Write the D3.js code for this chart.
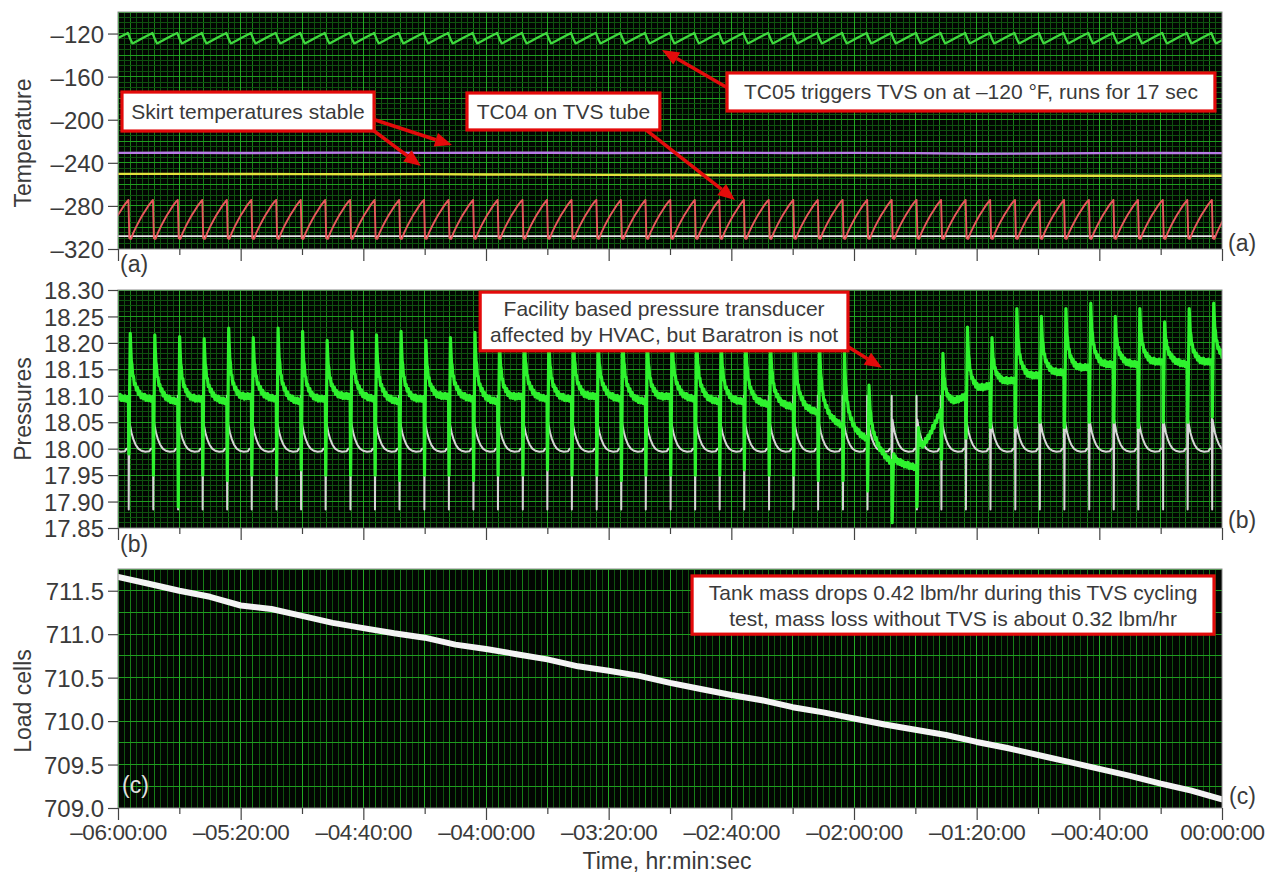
<!DOCTYPE html>
<html><head><meta charset="utf-8">
<script src="https://cdn.jsdelivr.net/npm/d3@7"></script>
<style>
body{margin:0;background:#fff;}
svg{display:block;font-family:"Liberation Sans",Arial,Helvetica,sans-serif;}
</style>
</head><body>
<svg id="chart" width="1269" height="876"></svg>
<script>
// ---------------- DATA ----------------
// time axis: minutes relative to end of test
const timeTicksMajor = [-360,-320,-280,-240,-200,-160,-120,-80,-40,0];
const timeTicksMinor = [-340,-300,-260,-220,-180,-140,-100,-60,-20];
const timeTickLabels = ["–06:00:00","–05:20:00","–04:40:00","–04:00:00","–03:20:00","–02:40:00","–02:00:00","–01:20:00","–00:40:00","00:00:00"];
const tempTicks = [-120,-160,-200,-240,-280,-320];
const pressTicks = [18.30,18.25,18.20,18.15,18.10,18.05,18.00,17.95,17.90,17.85];
const loadTicks = [711.5,711.0,710.5,710.0,709.5,709.0];

// TVS-on events (min), first one is just before the window
const tvsEvents = [-364.6,-356.6,-348.6,-340.5,-332.5,-324.5,-316.5,-308.4,-300.4,-292.4,-284.3,-276.3,-268.3,-260.2,-252.2,-244.2,-236.2,-228.1,-220.1,-212.1,-204.0,-196.0,-188.0,-179.9,-171.9,-163.9,-155.9,-147.8,-139.8,-131.8,-123.7,-115.7,-107.7,-99.6,-91.6,-83.6,-75.6,-67.5,-59.5,-51.5,-43.4,-35.4,-27.4,-19.3,-11.3,-3.3];

// TC05 (green) one-cycle shape: minutes after event, °F
const tc05T = [-0.2,0.6,1.3,1.8,3.2,4.8,6.4,7.7];
const tc05V = [-119.4,-125.0,-129.0,-128.6,-126.4,-123.9,-121.6,-119.7];
// TC04 (red) one-cycle shape
const tc04T = [0,0.3,0.9,1.6,2.6,3.6,4.6,5.6,6.6,7.6];
const tc04V = [-274.5,-310.0,-310.5,-305.0,-299.0,-293.5,-288.5,-284.0,-279.5,-275.8];
// white reference trace at -308 with blips at each cycle
const whiteT = [0,0.35,0.45,0.75,0.85];
const whiteV = [-308,-308,-310,-310,-308];
// skirt temperatures every 20 min
const skirtTime = [-360,-340,-320,-300,-280,-260,-240,-220,-200,-180,-160,-140,-120,-100,-80,-60,-40,-20,0];
const skirtPurple = [-230.8,-230.6,-230.9,-230.7,-230.5,-230.8,-230.7,-230.6,-230.9,-230.8,-230.7,-230.9,-230.8,-231.0,-231.6,-231.4,-231.0,-230.9,-231.0];
const skirtYellow = [-250.3,-250.3,-250.4,-250.5,-250.6,-250.5,-250.8,-251.0,-251.2,-251.3,-251.5,-251.6,-251.7,-251.8,-251.9,-252.0,-252.0,-252.1,-252.0];

// Baratron (white) one-cycle shape, psia
const barT = [-1.2,-0.6,-0.05,0,0.1,0.25,0.5,1.0,1.6,2.3,3.2,4.2,5.5,6.8];
const barV = [17.995,18.0,18.0,18.10,17.885,18.055,18.045,18.03,18.018,18.008,18.0,17.996,17.994,17.995];
// Facility transducer (green): per-cycle peak, end-of-cycle level, dip
const facPeak = [18.21,18.218,18.215,18.212,18.208,18.228,18.21,18.228,18.222,18.205,18.222,18.215,18.222,18.205,18.21,18.22,18.205,18.215,18.205,18.22,18.205,18.215,18.21,18.215,18.21,18.205,18.21,18.2,18.205,18.195,18.185,18.12,17.99,18.04,18.18,18.23,18.21,18.265,18.25,18.265,18.275,18.25,18.265,18.24,18.265,18.275];
const facBase = [18.095,18.095,18.09,18.095,18.09,18.1,18.095,18.09,18.095,18.1,18.095,18.09,18.095,18.1,18.095,18.09,18.1,18.095,18.095,18.1,18.095,18.09,18.1,18.095,18.09,18.09,18.085,18.08,18.07,18.045,18.02,17.975,17.965,18.07,18.1,18.12,18.13,18.14,18.145,18.155,18.16,18.16,18.165,18.16,18.165,18.17];
const facDip = [17.95,17.99,17.95,17.89,17.95,17.94,17.95,17.95,17.96,17.95,17.95,17.95,17.94,17.95,17.95,17.94,17.95,17.95,17.96,17.95,17.95,17.94,17.95,17.95,17.95,17.95,17.96,17.95,17.95,17.94,17.94,17.92,17.86,17.89,17.98,18.02,18.04,18.04,18.05,18.04,18.05,18.05,18.04,18.05,18.05,18.06];
// decay shape after the facility peak (fraction of excess, small ripple)
const facShapeT = [0.6,0.75,0.95,1.15,1.4,1.65,1.95,2.25,2.6,2.95,3.3,3.7,4.1,4.5,4.9,5.3,5.7,6.1,6.5,6.9,7.3,7.7];
const facShapeF = [1.0,0.76,0.6,0.48,0.38,0.31,0.25,0.2,0.16,0.12,0.09,0.07,0.05,0.035,0.025,0.015,0.01,0.005,0,0,0,0];
const facShapeW = [0,0.004,-0.003,0.005,-0.004,0.004,-0.005,0.004,-0.004,0.006,-0.004,0.005,-0.005,0.004,-0.004,0.006,-0.005,0.004,-0.004,0.005,-0.005,0.003];

// Load cells every 10 min
const loadTime = [-360,-350,-340,-330,-320,-310,-300,-290,-280,-270,-260,-250,-240,-230,-220,-210,-200,-190,-180,-170,-160,-150,-140,-130,-120,-110,-100,-90,-80,-70,-60,-50,-40,-30,-20,-10,0];
const loadMass = [711.66,711.58,711.50,711.43,711.33,711.29,711.21,711.13,711.07,711.01,710.96,710.88,710.83,710.77,710.71,710.63,710.58,710.52,710.44,710.37,710.30,710.24,710.16,710.10,710.03,709.96,709.90,709.84,709.76,709.69,709.61,709.53,709.45,709.37,709.28,709.20,709.10];

// ---------------- LAYOUT ----------------
const svg = d3.select('#chart');
const X0 = 118, X1 = 1222;
const x = d3.scaleLinear().domain([-360,0]).range([X0,X1]);
const TXT = '#3a3a3a';
const FF = '"Liberation Sans",Arial,sans-serif';

const panels = [
  {key:'a', top:12, bottom:249, domain:[-320,-100], ticks:tempTicks, fmt:d=>d<0?'–'+Math.abs(d):String(d),
   title:'Temperature', titleY:143, hMajor:20, hMinor:5},
  {key:'b', top:290, bottom:528, domain:[17.85,18.30], ticks:pressTicks, fmt:d=>d.toFixed(2),
   title:'Pressures', titleY:409, hMajor:0.05, hMinor:0.01},
  {key:'c', top:569, bottom:808, domain:[709.0,711.75], ticks:loadTicks, fmt:d=>d.toFixed(1),
   title:'Load cells', titleY:701, hMajor:0.25, hMinor:null}
];

const defs = svg.append('defs');

panels.forEach(p => {
  p.y = d3.scaleLinear().domain(p.domain).range([p.bottom,p.top]);
  defs.append('clipPath').attr('id','clip-'+p.key)
    .append('rect').attr('x',X0).attr('y',p.top).attr('width',X1-X0).attr('height',p.bottom-p.top);
  const g = svg.append('g');
  g.append('rect').attr('x',X0).attr('y',p.top).attr('width',X1-X0).attr('height',p.bottom-p.top).attr('fill','#020602');
  const grid = g.append('g').attr('shape-rendering','crispEdges').attr('clip-path','url(#clip-'+p.key+')');
  const vline = (t,c) => grid.append('line').attr('x1',x(t)).attr('x2',x(t)).attr('y1',p.top).attr('y2',p.bottom).attr('stroke',c).attr('stroke-width',1);
  const hline = (v,c) => grid.append('line').attr('x1',X0).attr('x2',X1).attr('y1',p.y(v)).attr('y2',p.y(v)).attr('stroke',c).attr('stroke-width',1);
  d3.range(-360,0.01,2).forEach(t=>vline(t,'#0f520f'));
  d3.range(-356,0,8).forEach(t=>vline(t,'#188018'));
  const [d0,d1] = p.domain;
  if (p.hMinor) d3.range(0, Math.round((d1-d0)/p.hMinor)+1).forEach(i=>hline(d0+i*p.hMinor,'#0f520f'));
  d3.range(0, Math.round((d1-d0)/p.hMajor)+1).forEach(i=>hline(d0+i*p.hMajor,'#1f9c1f'));
  [...timeTicksMajor,...timeTicksMinor].forEach(t=>vline(t,'#23aa23'));
  p.plot = g.append('g').attr('clip-path','url(#clip-'+p.key+')');
  g.append('rect').attr('x',X0).attr('y',p.top).attr('width',X1-X0).attr('height',p.bottom-p.top)
    .attr('fill','none').attr('stroke','#8a8a8a').attr('stroke-width',1);

  // y axis
  const ya = svg.append('g').attr('transform',`translate(${X0},0)`)
    .call(d3.axisLeft(p.y).tickValues(p.ticks).tickFormat(p.fmt).tickSize(10).tickPadding(4));
  ya.select('.domain').remove();
  ya.selectAll('line').attr('stroke','#444').attr('stroke-width',1.2);
  ya.selectAll('text').attr('fill',TXT).style('font-size','24px').style('font-family',FF).attr('dy','0.36em');

  // x axis ticks
  const xaMaj = svg.append('g').attr('transform',`translate(0,${p.bottom})`)
    .call(d3.axisBottom(x).tickValues(timeTicksMajor).tickSize(12).tickPadding(4)
      .tickFormat((d,i)=> p.key==='c' ? timeTickLabels[i] : ''));
  xaMaj.select('.domain').remove();
  xaMaj.selectAll('line').attr('stroke','#444').attr('stroke-width',1.2);
  xaMaj.selectAll('text').attr('fill',TXT).style('font-size','22.5px').style('letter-spacing','-0.4px').style('font-family',FF);
  const xaMin = svg.append('g').attr('transform',`translate(0,${p.bottom})`)
    .call(d3.axisBottom(x).tickValues(timeTicksMinor).tickSize(6).tickFormat(''));
  xaMin.select('.domain').remove();
  xaMin.selectAll('line').attr('stroke','#444').attr('stroke-width',1.2);

  svg.append('text').attr('transform',`translate(31,${p.titleY}) rotate(-90)`)
    .attr('text-anchor','middle').attr('fill',TXT).style('font-size','23px').text(p.title);
});

// ---------------- SERIES ----------------
function cycles(shapeT, valFn) {
  const pts = [];
  tvsEvents.forEach((te,k)=> shapeT.forEach((dt,j)=> pts.push([te+dt, valFn(k,j,dt)])));
  return pts;
}
function draw(p, pts, color, w) {
  p.plot.append('path').datum(pts)
    .attr('d', d3.line().x(d=>x(d[0])).y(d=>p.y(d[1])))
    .attr('fill','none').attr('stroke',color).attr('stroke-width',w)
    .attr('stroke-linejoin','round').attr('stroke-linecap','round');
}
const [pa,pb,pc] = panels;

// Panel (a)
draw(pa, cycles(whiteT,(k,j)=>whiteV[j]), '#e4e4e4', 1.8);
draw(pa, skirtTime.map((t,i)=>[t,skirtYellow[i]]), '#e2e23c', 2.4);
draw(pa, skirtTime.map((t,i)=>[t,skirtPurple[i]]), '#b87ce6', 2.4);
draw(pa, cycles(tc04T,(k,j)=>tc04V[j]), '#e9595c', 1.9);
draw(pa, cycles(tc05T,(k,j)=>tc05V[j]), '#3fd93f', 2.3);

// Panel (b)
draw(pb, cycles(barT,(k,j)=>barV[j]), '#d6d6d6', 2);
const facPts = [];
tvsEvents.forEach((te,k)=>{
  const bPrev = k>0 ? facBase[k-1] : facBase[0];
  const bK = facBase[k];
  const base = dt => bPrev + (bK-bPrev)*(dt/7.7);
  facPts.push([te, bPrev]);
  facPts.push([te+0.15, facDip[k]]);
  const exc = facPeak[k] - base(0.6);
  facShapeT.forEach((dt,j)=> facPts.push([te+dt, base(dt) + exc*facShapeF[j] + facShapeW[j]]));
});
draw(pb, facPts, '#2ef22e', 3.2);

// Panel (c)
draw(pc, loadTime.map((t,i)=>[t,loadMass[i]]), '#f4f4f4', 6);

// ---------------- ANNOTATIONS ----------------
const RED = '#e30b0b';
const arrows = [
  {p:pa, from:[-279.1,-197.5], to:[-251.1,-223.5]},
  {p:pa, from:[-280.4,-202.1], to:[-261.2,-243.0]},
  {p:pa, from:[-189.8,-204.9], to:[-158.8,-274.5]},
  {p:pa, from:[-157.2,-177.0], to:[-182.6,-135.3]},
  {p:pb, from:[-124.6,18.202], to:[-110.9,18.153]}
];
const arrowG = svg.append('g');
arrows.forEach(a=>{
  const x1=x(a.from[0]), y1=a.p.y(a.from[1]), x2=x(a.to[0]), y2=a.p.y(a.to[1]);
  const ang = Math.atan2(y2-y1,x2-x1), L=17, Wd=7;
  const bx = x2 - L*Math.cos(ang), by = y2 - L*Math.sin(ang);
  arrowG.append('line').attr('x1',x1).attr('y1',y1).attr('x2',bx).attr('y2',by).attr('stroke',RED).attr('stroke-width',3.5);
  const px = -Math.sin(ang), py = Math.cos(ang);
  arrowG.append('polygon').attr('points',[[x2,y2],[bx+px*Wd,by+py*Wd],[bx-px*Wd,by-py*Wd]].map(d=>d.join(',')).join(' ')).attr('fill',RED);
});

const boxes = [
  {p:pa, t0:-358.7, t1:-276.5, v0:-174.3, v1:-210.5, lines:['Skirt temperatures stable']},
  {p:pa, t0:-246.2, t1:-183.3, v0:-175.2, v1:-209.5, lines:['TC04 on TVS tube']},
  {p:pa, t0:-161.4, t1:-2.3, v0:-156.6, v1:-191.9, lines:['TC05 triggers TVS on at –120 °F, runs for 17 sec']},
  {p:pb, t0:-241.9, t1:-121.96, v0:18.296, v1:18.185, lines:['Facility based pressure transducer','affected by HVAC, but Baratron is not']},
  {p:pc, t0:-172.8, t1:-2.6, v0:711.67, v1:711.0, lines:['Tank mass drops 0.42 lbm/hr during this TVS cycling','test, mass loss without TVS is about 0.32 lbm/hr']}
];
boxes.forEach(b=>{
  const bx0=x(b.t0), bx1=x(b.t1), by0=b.p.y(b.v0), by1=b.p.y(b.v1);
  svg.append('rect').attr('x',bx0).attr('y',by0).attr('width',bx1-bx0).attr('height',by1-by0)
    .attr('fill','#fff').attr('stroke',RED).attr('stroke-width',3.2);
  const n=b.lines.length, lh=26, cy=(by0+by1)/2;
  b.lines.forEach((s,i)=>{
    svg.append('text').attr('x',(bx0+bx1)/2).attr('y',cy + (i-(n-1)/2)*lh + 7.5)
      .attr('text-anchor','middle').attr('fill',TXT).style('font-size','21px').text(s);
  });
});

// panel letters
const letters = [
  {s:'(a)', x:120, y:272, c:TXT},{s:'(a)', x:1228, y:251, c:TXT},
  {s:'(b)', x:120, y:552, c:TXT},{s:'(b)', x:1228, y:528, c:TXT},
  {s:'(c)', x:122, y:793, c:'#e0e0e0'},{s:'(c)', x:1229, y:804, c:TXT}
];
letters.forEach(l=> svg.append('text').attr('x',l.x).attr('y',l.y).attr('fill',l.c).style('font-size','23px').text(l.s));

svg.append('text').attr('x',667).attr('y',869).attr('text-anchor','middle').attr('fill',TXT).style('font-size','23px').text('Time, hr:min:sec');
</script>
</body></html>
